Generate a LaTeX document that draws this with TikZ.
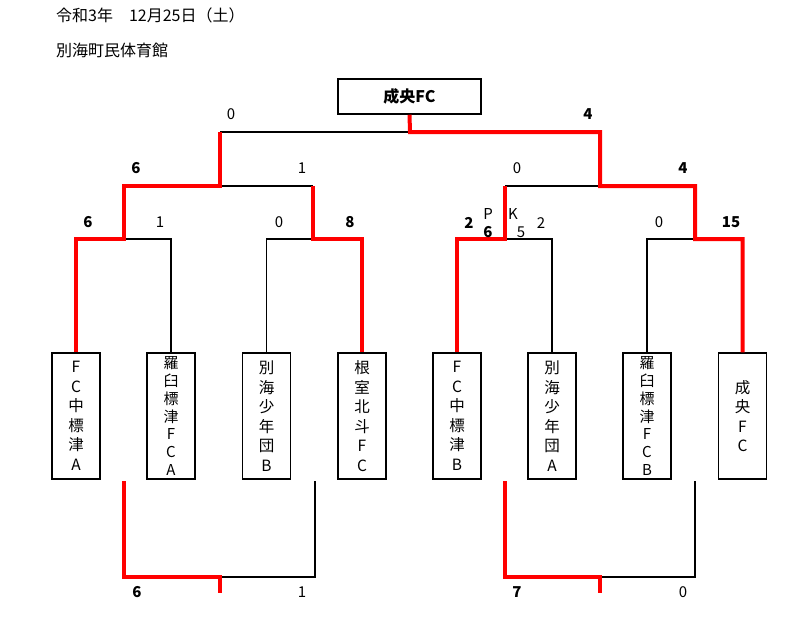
\documentclass[tikz,border=0pt]{standalone}
\usepackage{fontspec}
\setmainfont{Noto Sans CJK JP}
\begin{document}
\begin{tikzpicture}[x=1pt,y=-1pt,
  thinline/.style={line width=1.3pt, black},
  winline/.style={line width=4pt, red},
  team/.style={draw, line width=1.5pt, minimum width=48pt, minimum height=126pt, inner sep=0pt, align=center},
  six/.style={team, font=\fontsize{15.5}{19.5}\selectfont},
  seven/.style={team, font=\fontsize{15}{17.8}\selectfont},
  four/.style={team, font=\fontsize{15.5}{19.5}\selectfont},
  champ/.style={draw, line width=1.5pt, minimum width=143pt, minimum height=35pt, inner sep=0pt, font=\bfseries\fontsize{16}{16}\selectfont},
  score/.style={inner sep=0pt, font=\fontsize{15}{15}\selectfont},
  wscore/.style={inner sep=0pt, font=\bfseries\fontsize{15}{15}\selectfont},
  head/.style={inner sep=0pt, anchor=west, font=\fontsize{16}{16}\selectfont}]
\useasboundingbox (0,0) rectangle (800,618);
% header
\node[head] (h1) at (56,15) {令和3年　12月25日（土）};
\node[head] (h2) at (56,50) {別海町民体育館};
% champion
\node[champ] (c) at (409.5,96.5) {成央FC};
% teams
\node[six] (t1) at (76,416) {F\\C\\中\\標\\津\\A};
\node[seven] (t2) at (171,416) {羅\\臼\\標\\津\\F\\C\\A};
\node[six] (t3) at (266.5,416) {別\\海\\少\\年\\団\\B};
\node[six] (t4) at (362,416) {根\\室\\北\\斗\\F\\C};
\node[six] (t5) at (457,416) {F\\C\\中\\標\\津\\B};
\node[six] (t6) at (552,416) {別\\海\\少\\年\\団\\A};
\node[seven] (t7) at (647,416) {羅\\臼\\標\\津\\F\\C\\B};
\node[four] (t8) at (742.5,416) {成\\央\\F\\C};
% junctions
\coordinate (q1) at (124,239);
\coordinate (q2) at (313,239);
\coordinate (q3) at (505,239);
\coordinate (q4) at (695,239);
\coordinate (s1) at (220,186);
\coordinate (s2) at (600,186);
\coordinate (f) at (410,132);
% lower bracket
\coordinate (b1) at (124,481);
\coordinate (b2) at (315,481);
\coordinate (m1) at (220,577);
\coordinate (e1) at (220,593);
\coordinate (b3) at (505,481);
\coordinate (b4) at (695,481);
\coordinate (m2) at (600,577);
\coordinate (e2) at (600,593);
% black lines
\draw[thinline] (t2.north) |- (q1);
\draw[thinline] (t3.north) |- (q2);
\draw[thinline] (t6.north) |- (q3);
\draw[thinline] (t7.north) |- (q4);
\draw[thinline] (q2 |- s1) -- (s1);
\draw[thinline] (q3 |- s2) -- (s2);
\draw[thinline] (s1 |- f) -- (f);
\draw[thinline] (b2) |- (m1);
\draw[thinline] (b4) |- (m2);
% red lines
\draw[winline] (t1.north) |- (q1) -- (q1 |- s1) -- (s1) -- (s1 |- f);
\draw[winline] (t4.north) |- (q2) -- (q2 |- s1);
\draw[winline] (t5.north) |- (q3) -- (q3 |- s2);
\draw[winline] (t8.north) |- (q4) -- (q4 |- s2) -- (s2) -- (s2 |- f) -- (f) -- (c.south);
\draw[winline] (b1) |- (m1) -- (e1);
\draw[winline] (b3) |- (m2) -- (e2);
% scores
\node[score] (sc1) at (231,114) {0};
\node[wscore] (sc2) at (588,114) {4};
\node[wscore] (sc3) at (136,168) {6};
\node[score] (sc4) at (302,168) {1};
\node[score] (sc5) at (517,168) {0};
\node[wscore] (sc6) at (683,168) {4};
\node[wscore] (sc7) at (88,222) {6};
\node[score] (sc8) at (160,222) {1};
\node[score] (sc9) at (279,222) {0};
\node[wscore] (sc10) at (350,222) {8};
\node[wscore] (sc11) at (469,223) {2};
\node[score] (pk1) at (488,214) {P};
\node[score] (pk2) at (513,214) {K};
\node[wscore] (sc12) at (488,232) {6};
\node[score] (sc13) at (521,232) {5};
\node[score] (sc14) at (541,223) {2};
\node[score] (sc15) at (659,222) {0};
\node[wscore] (sc16) at (731,222) {15};
\node[wscore] (sc17) at (137,592) {6};
\node[score] (sc18) at (302,592) {1};
\node[wscore] (sc19) at (517,592) {7};
\node[score] (sc20) at (683,592) {0};
\end{tikzpicture}
\end{document}
